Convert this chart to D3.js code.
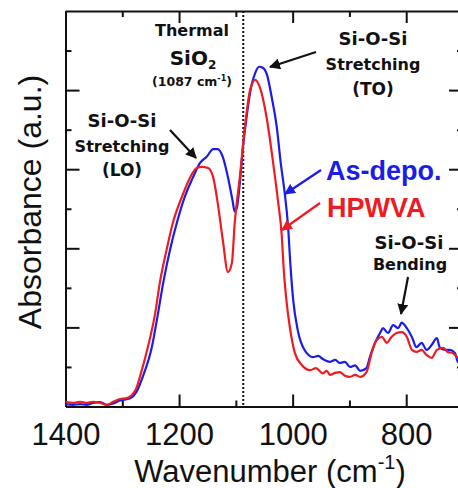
<!DOCTYPE html>
<html>
<head>
<meta charset="utf-8">
<script src="https://cdn.jsdelivr.net/npm/d3@7"></script>
<style>
  html, body { margin: 0; padding: 0; background: #fff; }
  svg { display: block; }
  .axis text { font-family: "Liberation Sans", Arial, sans-serif; font-size: 31px; fill: #111; }
  .axis path, .axis line { stroke: #111; stroke-width: 2; }
  .note { font-family: "DejaVu Sans", sans-serif; font-weight: bold; fill: #111; text-anchor: middle; }
</style>
</head>
<body>
<div id="chart"></div>
<script>
// wavenumber (cm-1) and absorbance (a.u.)
const asDepoWn = [1400,1387,1374,1363,1352,1339,1327,1316,1304,1286,1275,1264,1248,1237,1228,1216,1204,1190,1176,1163,1151,1140,1132,1123,1114,1106,1102,1098,1093,1088,1081,1075,1066,1059,1052,1045,1037,1028,1021,1014,1008,1004,999,991,979,964,955,947,934,925,917,908,899,890,881,870,864,855,846,841,832,823,814,808,799,790,782,773,764,755,746,741,732,723,714,709,700];
const asDepoAbs = [0.06,0.04,0.06,0.04,0.09,0.11,0.04,0.08,0.15,0.21,0.37,0.75,1.50,2.36,3.12,3.96,4.64,5.30,5.78,6.16,6.32,6.51,6.51,6.31,5.80,5.22,4.93,5.04,5.65,6.49,7.33,7.93,8.43,8.59,8.56,8.38,7.83,7.07,6.16,5.40,4.54,3.60,2.69,1.93,1.43,1.25,1.28,1.20,1.13,1.18,1.10,1.13,1.00,1.04,0.90,0.97,1.25,1.61,1.86,1.98,1.86,2.06,1.98,2.12,1.98,1.76,1.50,1.61,1.43,1.56,1.73,1.50,1.43,1.43,1.35,1.13,1.18];

const hpwvaWn = [1400,1387,1374,1363,1352,1339,1327,1316,1304,1292,1283,1275,1269,1255,1242,1234,1222,1211,1195,1181,1169,1160,1149,1140,1132,1123,1114,1107,1102,1093,1084,1075,1066,1058,1046,1035,1026,1019,1016,1011,1005,996,984,969,959,947,940,934,925,917,908,899,890,881,870,861,852,843,834,826,817,808,799,790,782,773,764,755,746,735,727,718,709,700];
const hpwvaAbs = [0.12,0.09,0.12,0.09,0.12,0.09,0.04,0.12,0.19,0.21,0.29,0.47,0.75,1.50,2.36,3.12,3.96,4.64,5.30,5.78,6.03,6.06,6.03,5.80,5.15,4.21,3.40,3.63,4.64,5.80,7.07,8.00,8.26,8.08,7.32,6.23,5.22,4.29,3.53,2.69,2.01,1.35,1.05,0.92,0.97,0.84,0.90,0.80,0.85,0.87,0.78,0.75,0.80,0.75,0.87,1.35,1.68,1.76,1.61,1.76,1.86,1.88,1.76,1.43,1.38,1.43,1.30,1.23,1.43,1.48,1.38,1.35,1.23,1.18];

const xMajorTicks = [1400, 1200, 1000, 800];
const xMinorTicks = [1300, 1100, 900];
const yMajorTicks = [2, 4, 6, 8];
const yMinorTicks = [1, 3, 5, 7, 9];
const thermalWn = 1087;

const BLUE = '#1c1ce8';
const RED = '#ee1c22';

const width = 458, height = 488;

const svg = d3.select('#chart')
  .append('svg')
  .attr('width', width)
  .attr('height', height);

const x = d3.scaleLinear().domain([1400, 700]).range([65.5, 463]);
const y = d3.scaleLinear().domain([0, 10]).range([406.5, 11]);

// arrow heads
const defs = svg.append('defs');
[['arrK', '#111'], ['arrB', BLUE], ['arrR', RED]].forEach(([id, c]) => {
  defs.append('marker')
    .attr('id', id)
    .attr('viewBox', '0 0 10 10')
    .attr('refX', 9).attr('refY', 5)
    .attr('markerWidth', 5).attr('markerHeight', 5)
    .attr('orient', 'auto')
    .append('path')
    .attr('d', 'M0,0 L10,5 L0,10 z')
    .attr('fill', c);
});

// axes: ticks point inward
svg.append('g').attr('class', 'axis')
  .attr('transform', `translate(0,${y(0)})`)
  .call(d3.axisBottom(x).tickValues(xMajorTicks).tickSize(-12).tickSizeOuter(0).tickPadding(16.5).tickFormat(d3.format('d')));
svg.append('g').attr('class', 'axis')
  .attr('transform', `translate(0,${y(0)})`)
  .call(d3.axisBottom(x).tickValues(xMinorTicks).tickSize(-6).tickSizeOuter(0).tickFormat(''))
  .call(g => g.select('.domain').remove());

svg.append('g').attr('class', 'axis')
  .attr('transform', `translate(0,${y(10)})`)
  .call(d3.axisTop(x).tickValues(xMajorTicks).tickSize(-12).tickSizeOuter(0).tickFormat(''));
svg.append('g').attr('class', 'axis')
  .attr('transform', `translate(0,${y(10)})`)
  .call(d3.axisTop(x).tickValues(xMinorTicks).tickSize(-6).tickSizeOuter(0).tickFormat(''))
  .call(g => g.select('.domain').remove());

svg.append('g').attr('class', 'axis')
  .attr('transform', `translate(${x(1400)},0)`)
  .call(d3.axisLeft(y).tickValues(yMajorTicks).tickSize(-14).tickSizeOuter(0).tickFormat(''));
svg.append('g').attr('class', 'axis')
  .attr('transform', `translate(${x(1400)},0)`)
  .call(d3.axisLeft(y).tickValues(yMinorTicks).tickSize(-6).tickSizeOuter(0).tickFormat(''))
  .call(g => g.select('.domain').remove());

svg.append('g').attr('class', 'axis')
  .attr('transform', `translate(${x(700)},0)`)
  .call(d3.axisRight(y).tickValues(yMajorTicks).tickSize(-14).tickSizeOuter(0).tickFormat(''));
svg.append('g').attr('class', 'axis')
  .attr('transform', `translate(${x(700)},0)`)
  .call(d3.axisRight(y).tickValues(yMinorTicks).tickSize(-6).tickSizeOuter(0).tickFormat(''))
  .call(g => g.select('.domain').remove());

svg.selectAll('.axis .tick text').attr('fill', '#111');

// axis titles
const xTitle = svg.append('text')
  .attr('x', 270).attr('y', 482)
  .attr('text-anchor', 'middle')
  .style('font-family', '"Liberation Sans", Arial, sans-serif')
  .style('font-size', '31px')
  .attr('fill', '#111');
xTitle.append('tspan').text('Wavenumber (cm');
xTitle.append('tspan').attr('dy', -13).style('font-size', '20px').text('-1');
xTitle.append('tspan').attr('dy', 13).text(')');

svg.append('text')
  .attr('transform', 'rotate(-90)')
  .attr('x', -202).attr('y', 41)
  .attr('text-anchor', 'middle')
  .style('font-family', '"Liberation Sans", Arial, sans-serif')
  .style('font-size', '32px')
  .attr('fill', '#111')
  .text('Absorbance (a.u.)');

// thermal SiO2 reference line
svg.append('line')
  .attr('x1', x(thermalWn)).attr('x2', x(thermalWn))
  .attr('y1', y(10)).attr('y2', y(0))
  .attr('stroke', '#111')
  .attr('stroke-width', 2)
  .attr('stroke-dasharray', '2,2');

// spectra
const line = d3.line()
  .x(d => x(d[0]))
  .y(d => y(d[1]))
  .curve(d3.curveMonotoneX);

svg.append('path')
  .datum(d3.zip(asDepoWn, asDepoAbs))
  .attr('fill', 'none')
  .attr('stroke', BLUE)
  .attr('stroke-width', 2.2)
  .attr('d', line);

svg.append('path')
  .datum(d3.zip(hpwvaWn, hpwvaAbs))
  .attr('fill', 'none')
  .attr('stroke', RED)
  .attr('stroke-width', 2.2)
  .attr('d', line);

// annotations
function note(cx, cy, size, txt) {
  return svg.append('text').attr('class', 'note')
    .attr('x', cx).attr('y', cy)
    .style('font-size', size + 'px')
    .text(txt);
}

note(192, 36, 16, 'Thermal');
const sio = note(193, 65, 20, 'SiO');
sio.append('tspan').attr('dy', 4).style('font-size', '12px').text('2');
const wnNote = note(192, 86, 12.5, '(1087 cm');
wnNote.append('tspan').attr('dy', -5).style('font-size', '8px').text('-1');
wnNote.append('tspan').attr('dy', 5).text(')');

note(122, 127, 18, 'Si-O-Si');
note(122, 152, 16, 'Stretching');
note(122, 176, 17, '(LO)');

note(373, 45, 18, 'Si-O-Si');
note(373, 70, 16, 'Stretching');
note(373, 95, 17, '(TO)');

note(409, 249, 18, 'Si-O-Si');
note(410, 270, 16, 'Bending');

svg.append('text')
  .attr('x', 326).attr('y', 180)
  .style('font-family', '"Liberation Sans", Arial, sans-serif')
  .style('font-weight', 'bold')
  .style('font-size', '27px')
  .attr('fill', BLUE)
  .text('As-depo.');
svg.append('text')
  .attr('x', 327).attr('y', 217)
  .style('font-family', '"Liberation Sans", Arial, sans-serif')
  .style('font-weight', 'bold')
  .style('font-size', '27px')
  .attr('fill', RED)
  .text('HPWVA');

// arrows
const arrows = [
  { from: [170, 130], to: [196, 158], m: 'arrK', c: '#111' },
  { from: [316, 52], to: [270, 67], m: 'arrK', c: '#111' },
  { from: [321, 170], to: [285, 194], m: 'arrB', c: BLUE },
  { from: [320, 203], to: [282, 230], m: 'arrR', c: RED },
  { from: [408, 277], to: [401, 314], m: 'arrK', c: '#111' }
];
svg.selectAll('.arrow')
  .data(arrows)
  .enter()
  .append('line')
  .attr('class', 'arrow')
  .attr('x1', d => d.from[0]).attr('y1', d => d.from[1])
  .attr('x2', d => d.to[0]).attr('y2', d => d.to[1])
  .attr('stroke', d => d.c)
  .attr('stroke-width', 2.2)
  .attr('marker-end', d => `url(#${d.m})`);
</script>
</body>
</html>
